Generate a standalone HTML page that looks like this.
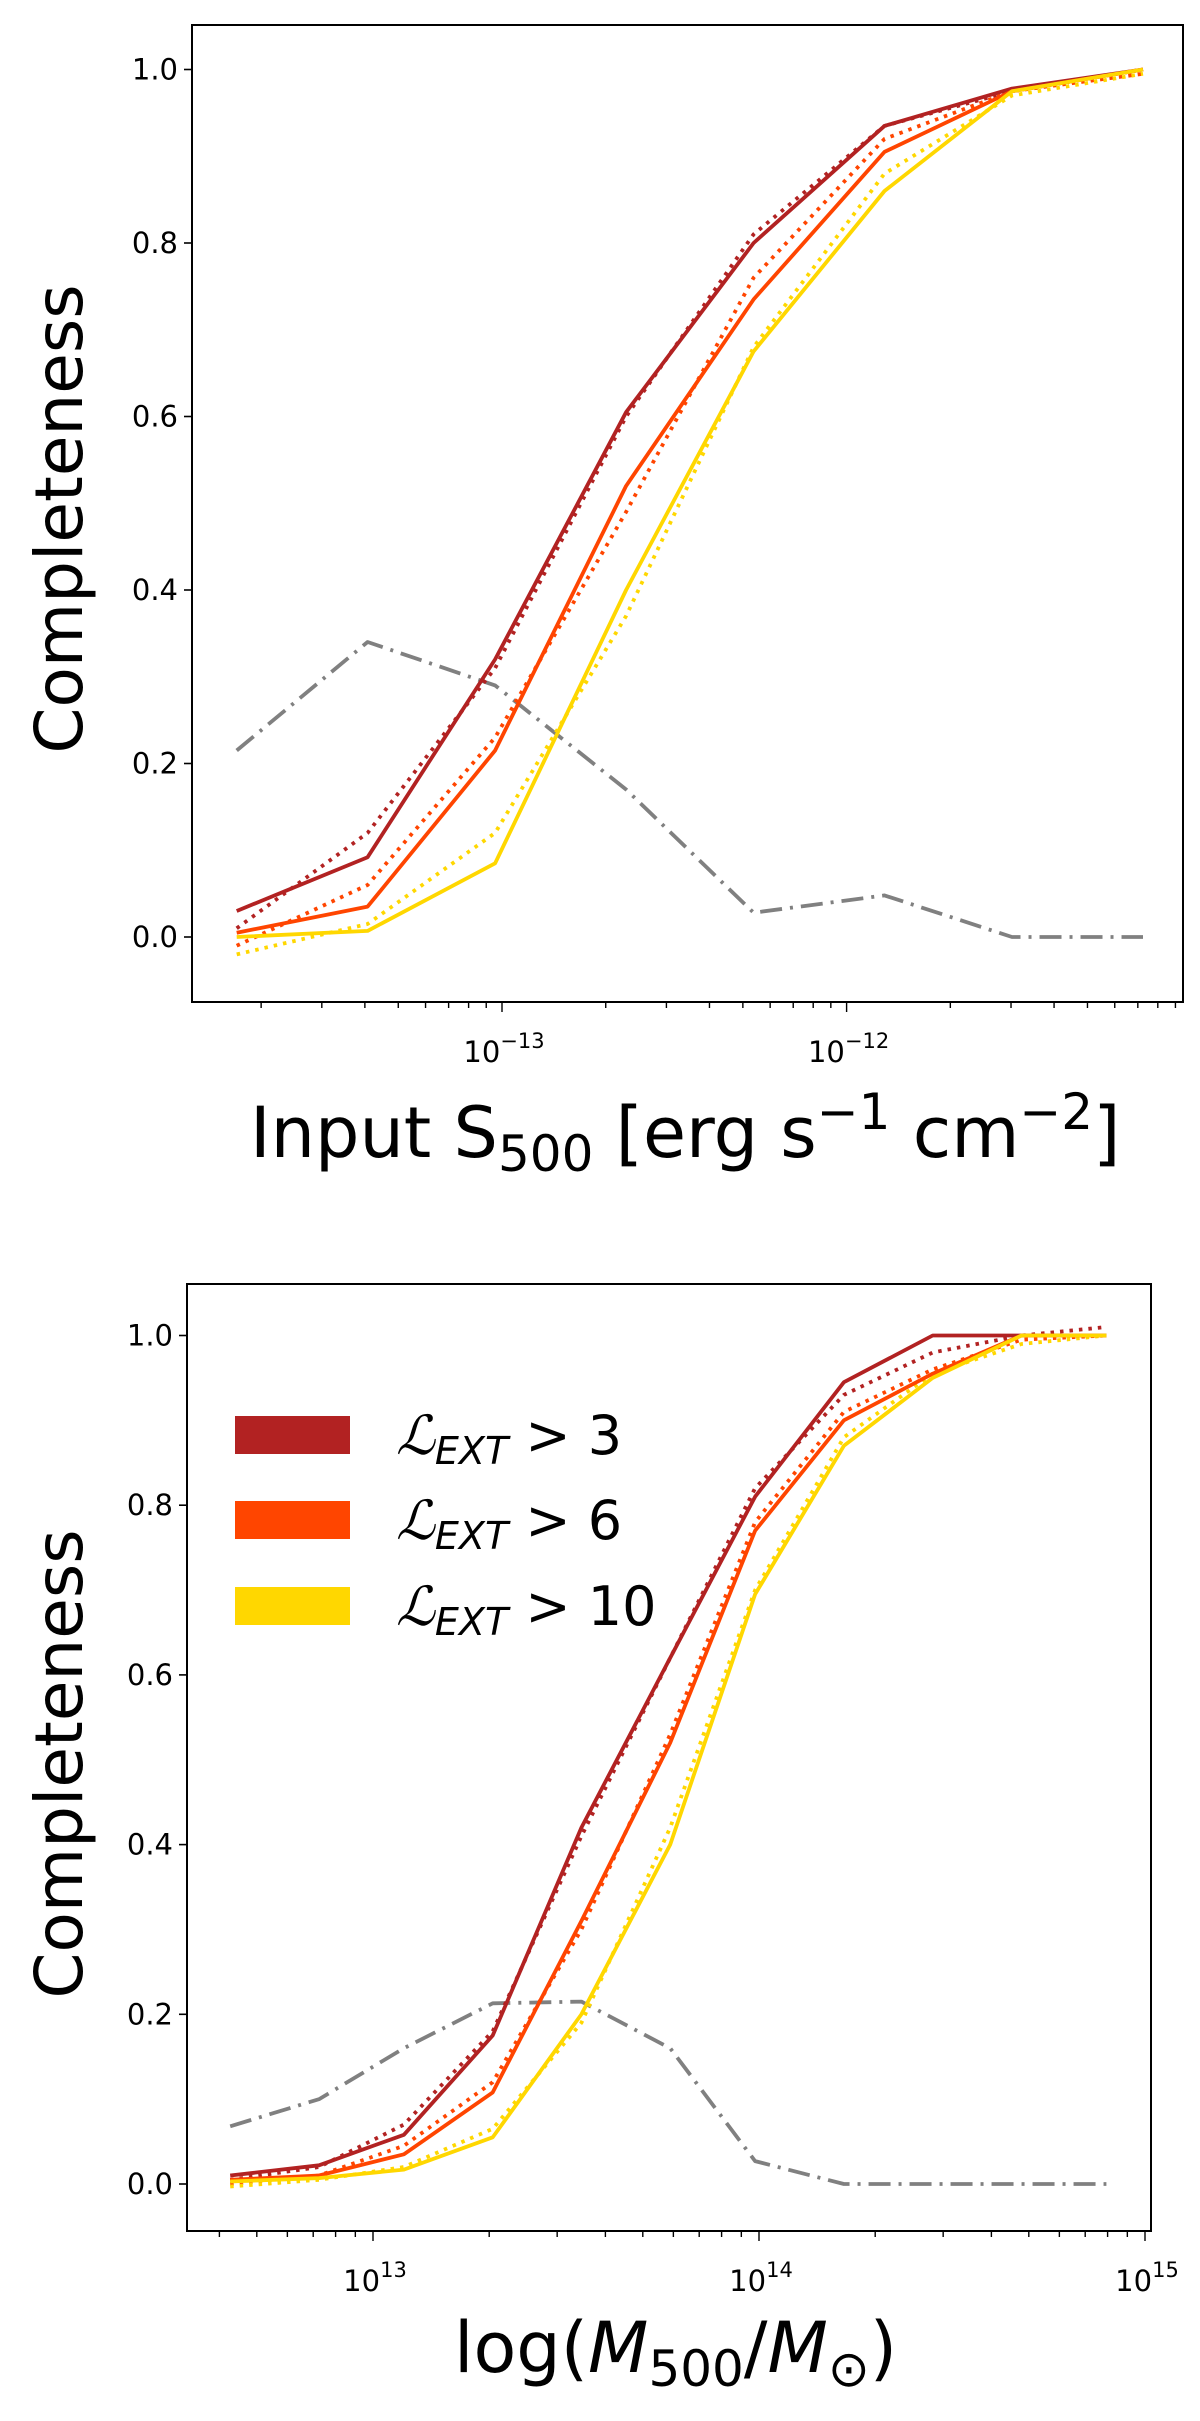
<!DOCTYPE html>
<html><head><meta charset="utf-8"><style>
html,body{margin:0;padding:0;background:#fff;}
svg{display:block;font-family:"DejaVu Sans","Liberation Sans",sans-serif;}
</style></head><body>
<svg id="fig" width="1200" height="2421" viewBox="0 0 1200 2421" xmlns="http://www.w3.org/2000/svg"></svg>
<script>
// ---- top panel data (log10 flux) ----
const topX = [-13.77, -13.39, -13.02, -12.64, -12.27, -11.89, -11.52, -11.14];
const topL3 = [0.03, 0.092, 0.32, 0.605, 0.80, 0.935, 0.978, 1.0];
const topL3dot = [0.01, 0.12, 0.31, 0.60, 0.81, 0.935, 0.975, 1.0];
const topL6 = [0.005, 0.035, 0.215, 0.52, 0.735, 0.905, 0.975, 1.0];
const topL6dot = [-0.01, 0.06, 0.23, 0.49, 0.76, 0.92, 0.975, 0.995];
const topL10 = [0.0, 0.007, 0.085, 0.40, 0.675, 0.86, 0.975, 1.0];
const topL10dot = [-0.02, 0.015, 0.12, 0.37, 0.68, 0.88, 0.97, 0.995];
const topGray = [0.215, 0.34, 0.29, 0.17, 0.028, 0.048, 0.0, 0.0];
// ---- bottom panel data (log10 mass) ----
const botX = [12.63, 12.86, 13.08, 13.31, 13.54, 13.77, 13.99, 14.22, 14.45, 14.68, 14.90];
const botL3 = [0.01, 0.022, 0.058, 0.175, 0.42, 0.62, 0.81, 0.945, 1.0, 1.0, 1.0];
const botL3dot = [0.005, 0.02, 0.07, 0.18, 0.41, 0.62, 0.82, 0.93, 0.98, 1.0, 1.01];
const botL6 = [0.005, 0.01, 0.035, 0.108, 0.31, 0.52, 0.77, 0.90, 0.955, 1.0, 1.0];
const botL6dot = [0.0, 0.01, 0.045, 0.12, 0.30, 0.53, 0.78, 0.91, 0.96, 0.995, 1.0];
const botL10 = [0.003, 0.007, 0.017, 0.055, 0.20, 0.40, 0.695, 0.87, 0.95, 1.0, 1.0];
const botL10dot = [-0.003, 0.005, 0.02, 0.065, 0.19, 0.42, 0.70, 0.88, 0.955, 0.99, 1.0];
const botGray = [0.068, 0.1, 0.16, 0.213, 0.215, 0.16, 0.027, 0.0, 0.0, 0.0, 0.0];
const yTicks = [0.0, 0.2, 0.4, 0.6, 0.8, 1.0];
const topMajor = [-13, -12];
const botMajor = [13, 14, 15];

const NS = "http://www.w3.org/2000/svg";
const svg = document.getElementById("fig");
function mk(tag, attrs, parent) {
  const e = document.createElementNS(NS, tag);
  for (const k in attrs) e.setAttribute(k, attrs[k]);
  (parent || svg).appendChild(e);
  return e;
}

function panel(cfg) {
  const g = mk("g", {});
  
  
  const X = v => cfg.x0px + (v - cfg.x0log) * cfg.dec;
  const Y = v => cfg.y0px - v * cfg.ypu;
  const series = [
    [cfg.gray, "#808080", "22,8,3,8", "gray-dashdot-line"],
    [cfg.l3dot, "#b22222", "3.5,6", "l3-dotted-line"],
    [cfg.l6dot, "#ff4500", "3.5,6", "l6-dotted-line"],
    [cfg.l10dot, "#ffd700", "3.5,6", "l10-dotted-line"],
    [cfg.l3, "#b22222", "", "l3-solid-line"],
    [cfg.l6, "#ff4500", "", "l6-solid-line"],
    [cfg.l10, "#ffd700", "", "l10-solid-line"]
  ];
  series.forEach(s => {
    const pts = s[0].map((v, i) => X(cfg.xs[i]).toFixed(1) + "," + Y(v).toFixed(1)).join(" ");
    const attrs = {points: pts, fill: "none", stroke: s[1], "stroke-width": 3.8, "stroke-linejoin": "round"};
    if (s[2]) attrs["stroke-dasharray"] = s[2];
    const pl = mk("polyline", attrs, g);
    
    
  });
  const fr = mk("rect", {x: cfg.L, y: cfg.T, width: cfg.R - cfg.L, height: cfg.B - cfg.T, fill: "none", stroke: "#000", "stroke-width": 2}, g);
  
  
  yTicks.forEach(t => {
    const y = Y(t);
    mk("line", {x1: cfg.L - 8, x2: cfg.L, y1: y, y2: y, stroke: "#000", "stroke-width": 1.6}, g);
    const tx = mk("text", {x: cfg.L - 14, y: y + 10, "text-anchor": "end", "font-size": 29}, g);
    tx.textContent = t.toFixed(1);
    
    
  });
  for (let d = Math.floor(cfg.lmin); d <= Math.ceil(cfg.lmax); d++) {
    for (let m = 1; m <= 9; m++) {
      const lv = d + Math.log10(m);
      if (lv < cfg.lmin || lv > cfg.lmax) continue;
      const x = X(lv);
      mk("line", {x1: x, x2: x, y1: cfg.B, y2: cfg.B + (m === 1 ? 10 : 6), stroke: "#000", "stroke-width": 1.4}, g);
    }
  }
  cfg.major.forEach(d => {
    const x = X(d);
    const tx = mk("text", {x: x + 2, y: cfg.B + 60, "text-anchor": "middle", "font-size": 29}, g);
    
    
    const t1 = mk("tspan", {}, tx); t1.textContent = "10";
    const t2 = mk("tspan", {dy: -14, "font-size": 21}, tx); t2.textContent = (d < 0 ? "\u2212" + (-d) : "" + d);
  });
  const yl = mk("text", {x: 0, y: 0, transform: `translate(${cfg.ylx},${cfg.yly}) rotate(-90)`, "text-anchor": "middle", "font-size": 66}, g);
  yl.textContent = "Completeness";
  
  
  return {g, X, Y};
}

const topPanel = panel({name: "flux-panel", xs: topX, l3: topL3, l3dot: topL3dot, l6: topL6, l6dot: topL6dot, l10: topL10, l10dot: topL10dot, gray: topGray,
  x0px: 502, x0log: -13, dec: 344.6, y0px: 937, ypu: 867.5, L: 192, R: 1183, T: 25, B: 1002, lmin: -13.9, lmax: -11.02, major: topMajor, ylx: 82, yly: 519});
const xl1 = mk("text", {x: 250, y: 1157, "font-size": 70});


xl1.innerHTML = 'Input S<tspan font-size="50" dy="14">500</tspan><tspan dy="-14"> [erg s</tspan><tspan font-size="50" dy="-28">\u22121</tspan><tspan dy="28"> cm</tspan><tspan font-size="50" dy="-28">\u22122</tspan><tspan dy="28">]</tspan>';

const botPanel = panel({name: "mass-panel", xs: botX, l3: botL3, l3dot: botL3dot, l6: botL6, l6dot: botL6dot, l10: botL10, l10dot: botL10dot, gray: botGray,
  x0px: 373, x0log: 13, dec: 386, y0px: 2184, ypu: 848.5, L: 187, R: 1151, T: 1284, B: 2231, lmin: 12.52, lmax: 15.015, major: botMajor, ylx: 82, yly: 1764});
const xl2 = mk("text", {x: 454, y: 2372, "font-size": 70});


xl2.innerHTML = 'log(<tspan font-style="italic">M</tspan><tspan font-size="50" dy="14">500</tspan><tspan dy="-14">/</tspan><tspan font-style="italic">M</tspan><tspan font-size="50" dy="14">\u2299</tspan><tspan dy="-14">)</tspan>';

const legLabels = ["3", "6", "10"];
const legColors = ["#b22222", "#ff4500", "#ffd700"];
const legY = [1435, 1520, 1606];
legLabels.forEach((lab, i) => {
  const g = mk("g", {});
  
  
  mk("rect", {x: 235, y: legY[i] - 19, width: 115, height: 38, fill: legColors[i]}, g);
  const t = mk("text", {x: 396, y: legY[i] + 19, "font-size": 54}, g);
  t.innerHTML = '<tspan font-style="italic" font-family="Liberation Serif, serif">\u2112</tspan><tspan font-style="italic" font-size="38" dy="10">EXT</tspan><tspan dy="-10"> &gt; ' + lab + '</tspan>';
});
</script>
</body></html>
